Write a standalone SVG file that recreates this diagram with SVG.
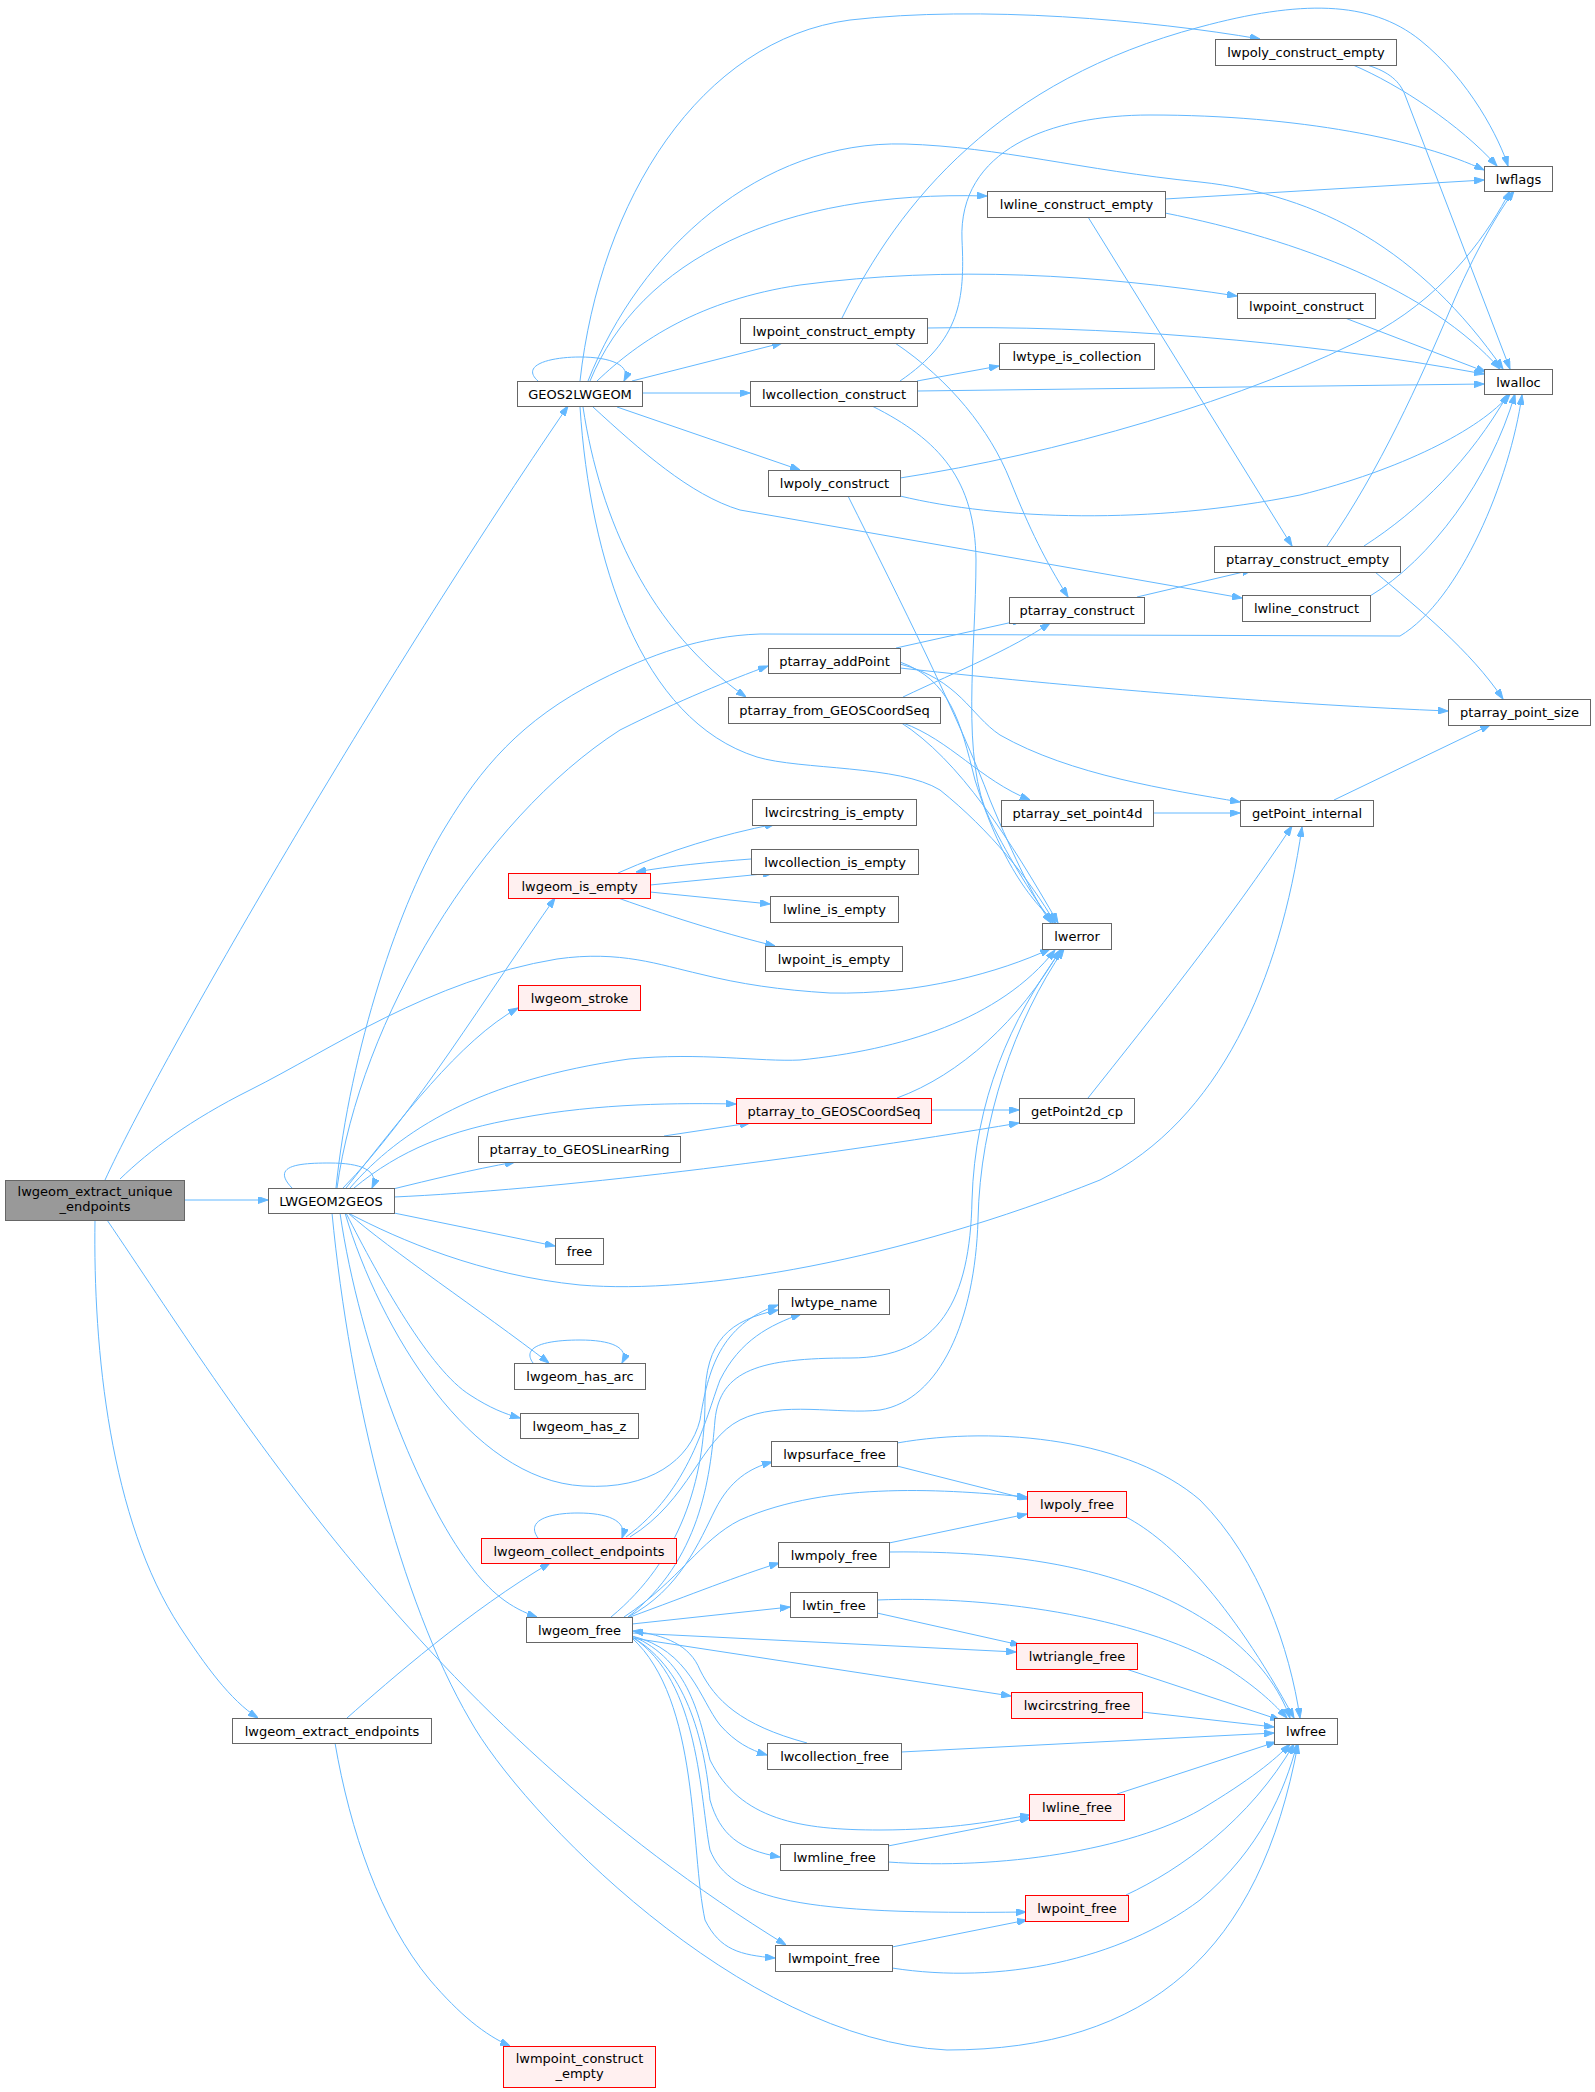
<svg xmlns="http://www.w3.org/2000/svg" width="1595" height="2092" viewBox="0 0 1595 2092">
<style>
.n rect{fill:#ffffff;stroke:#666666;stroke-width:1}
.r rect{fill:#fff0f0;stroke:#ff0000;stroke-width:1}
.s rect{fill:#999999;stroke:#666666;stroke-width:1}
text{font-family:"DejaVu Sans","Liberation Sans",sans-serif;font-size:13px;fill:#000000;text-anchor:middle}
#edges path{fill:none;stroke:#63b8ff;stroke-width:1;marker-end:url(#ah)}
</style>
<defs>
<marker id="ah" viewBox="0 0 10 7" refX="10" refY="3.5" markerWidth="10" markerHeight="7" markerUnits="userSpaceOnUse" orient="auto">
<path d="M0,0 L10,3.5 L0,7 z" fill="#63b8ff" stroke="#63b8ff"/>
</marker>
</defs>
<rect width="1595" height="2092" fill="#ffffff"/>
<g id="edges">
<!-- E -->
<path d="M184,1200 L268,1200"/>
<path d="M105,1180 C160,1060 380,680 568,406"/>
<path d="M120,1179 C150,1150 190,1120 250,1090 C330,1050 430,980 557,959 C620,950 660,965 700,974 C740,984 780,990 830,993 C920,995 1000,972 1050,949"/>
<path d="M95,1220 C93,1350 110,1520 180,1627 C205,1665 230,1700 258,1718"/>
<path d="M107,1220 C230,1400 420,1720 786,1945"/>
<!-- L -->
<path d="M292,1188 C270,1165 300,1163 330,1163 C360,1163 380,1170 372,1188"/>
<path d="M337,1188 C360,1020 480,820 620,730 C680,700 730,680 768,666"/>
<path d="M336,1188 C350,1050 400,900 446,826 C480,770 520,720 600,680 C650,655 700,636 760,634 L1400,636 C1460,600 1510,480 1522,395"/>
<path d="M343,1188 C410,1120 490,990 555,898"/>
<path d="M346,1188 C400,1120 460,1040 518,1008"/>
<path d="M350,1188 C400,1130 480,1080 629,1059 C700,1052 760,1062 800,1060 C900,1050 1000,1020 1055,950"/>
<path d="M354,1188 C400,1150 450,1130 520,1118 C600,1103 680,1103 736,1104"/>
<path d="M393,1189 C430,1180 470,1170 515,1162"/>
<path d="M394,1197 C550,1190 800,1160 1019,1123"/>
<path d="M394,1213 L555,1246"/>
<path d="M348,1213 C400,1240 480,1275 580,1285 C700,1295 900,1260 1100,1180 C1220,1120 1280,980 1302,827"/>
<path d="M348,1213 C390,1250 480,1310 549,1363"/>
<path d="M346,1213 C380,1280 430,1370 470,1395 C490,1408 505,1414 520,1418"/>
<path d="M345,1213 C380,1330 470,1480 583,1486 C650,1490 690,1460 700,1420 C708,1370 720,1325 778,1305"/>
<path d="M340,1213 C360,1350 420,1500 470,1565 C490,1592 510,1608 537,1617"/>
<path d="M332,1213 C350,1400 400,1600 470,1720 C520,1810 740,2040 947,2050 C1150,2050 1260,1950 1298,1744"/>
<!-- G -->
<path d="M538,381 C520,365 550,357 580,357 C610,357 632,365 624,381"/>
<path d="M642,393 L750,393"/>
<path d="M632,381 L782,343"/>
<path d="M617,407 L800,470"/>
<path d="M597,381 C640,340 700,300 800,285 C950,265 1100,275 1237,296"/>
<path d="M590,381 C640,260 780,190 987,196"/>
<path d="M580,381 C600,200 700,40 850,20 C980,5 1150,20 1260,39"/>
<path d="M588,381 C640,250 760,140 905,144 C1000,147 1080,170 1200,182 C1320,195 1420,250 1503,369"/>
<path d="M583,407 C600,520 650,630 746,697"/>
<path d="M580,407 C590,560 640,720 757,757 C800,770 900,765 940,790 C990,830 1030,880 1055,923"/>
<path d="M593,407 C640,450 690,495 740,510 L1242,598"/>
<!-- top right -->
<path d="M1353,65 C1400,85 1460,125 1497,166"/>
<path d="M1367,65 C1390,72 1400,82 1405,95 L1510,369"/>
<path d="M842,318 C900,200 1000,80 1200,27 C1300,0 1370,0 1420,40 C1470,80 1500,140 1508,166"/>
<path d="M927,328 C1100,325 1300,340 1484,374"/>
<path d="M895,343 C950,380 990,430 1010,480 C1030,530 1045,560 1068,597"/>
<path d="M900,381 C960,340 965,300 962,240 C958,150 1050,115 1150,115 C1300,115 1420,140 1484,170"/>
<path d="M917,381 L999,366"/>
<path d="M917,391 L1484,384"/>
<path d="M872,406 C940,440 975,480 976,560 C976,650 960,760 990,820 C1010,860 1035,900 1053,923"/>
<path d="M1165,199 L1484,180"/>
<path d="M1165,213 C1300,240 1430,290 1500,369"/>
<path d="M1088,217 L1292,546"/>
<path d="M1345,318 L1486,372"/>
<path d="M900,478 C1050,455 1250,400 1380,330 C1450,290 1490,230 1510,191"/>
<path d="M900,496 C1000,520 1150,525 1300,495 C1400,470 1480,430 1510,394"/>
<path d="M848,496 C900,600 960,720 990,800 C1015,860 1035,900 1051,923"/>
<path d="M1327,546 C1380,470 1420,380 1450,310 C1475,250 1500,210 1514,191"/>
<path d="M1364,546 C1420,510 1470,460 1508,394"/>
<path d="M1375,572 C1420,610 1470,650 1503,699"/>
<path d="M1370,596 C1430,560 1490,480 1515,394"/>
<path d="M1137,597 L1252,570"/>
<path d="M896,648 L1022,620"/>
<path d="M900,668 C1100,690 1300,705 1448,711"/>
<path d="M900,664 C960,680 970,715 1000,735 C1070,775 1170,790 1240,802"/>
<path d="M900,662 C950,680 960,720 975,780 C1000,860 1030,900 1056,923"/>
<path d="M903,697 C960,670 1010,650 1050,623"/>
<path d="M903,723 C950,740 980,780 1030,800"/>
<path d="M900,722 C960,760 1010,840 1058,923"/>
<path d="M1153,813 L1240,813"/>
<path d="M1334,800 L1490,725"/>
<!-- is_empty -->
<path d="M618,873 C670,850 720,835 775,824"/>
<path d="M751,859 C710,862 670,866 636,872"/>
<path d="M650,885 L773,873"/>
<path d="M650,892 L770,904"/>
<path d="M618,898 C680,920 730,935 775,946"/>
<!-- GEOS coord -->
<path d="M897,1098 C960,1075 1020,1020 1060,950"/>
<path d="M931,1110 L1019,1110"/>
<path d="M664,1136 L750,1123"/>
<path d="M1088,1098 C1150,1020 1230,920 1292,826"/>
<!-- self loops -->
<path d="M533,1363 C520,1345 550,1340 580,1340 C610,1340 630,1347 622,1363"/>
<path d="M538,1538 C525,1520 550,1513 578,1513 C606,1513 628,1520 622,1538"/>
<!-- collect / free -> lwtype_name, lwerror -->
<path d="M626,1537 C690,1490 705,1420 720,1380 C740,1340 770,1325 801,1314"/>
<path d="M611,1617 C680,1560 705,1480 705,1400 C705,1340 730,1320 778,1310"/>
<path d="M628,1617 C700,1560 710,1480 715,1420 C720,1370 760,1358 850,1358 C940,1358 970,1300 972,1200 C975,1100 1010,1020 1062,949"/>
<path d="M630,1537 C690,1500 700,1440 740,1420 C780,1400 840,1415 880,1410 C940,1400 975,1320 978,1220 C980,1120 1015,1020 1064,949"/>
<path d="M347,1718 C390,1680 470,1610 550,1563"/>
<path d="M335,1743 C350,1830 380,1920 430,1980 C460,2015 485,2035 510,2046"/>
<!-- lwgeom_free -->
<path d="M628,1617 C680,1590 700,1540 715,1510 C730,1480 750,1468 772,1462"/>
<path d="M624,1617 C680,1580 700,1540 740,1520 C830,1480 950,1490 1027,1497"/>
<path d="M630,1617 C690,1595 740,1575 779,1563"/>
<path d="M632,1624 L790,1607"/>
<path d="M632,1633 L1016,1652"/>
<path d="M632,1638 L1011,1696"/>
<path d="M807,1743 C740,1725 715,1700 700,1670 C690,1645 665,1635 633,1631"/>
<path d="M632,1636 C690,1650 700,1700 720,1725 C735,1742 750,1750 767,1755"/>
<path d="M632,1636 C690,1660 700,1720 710,1760 C740,1820 800,1830 880,1830 C950,1830 1000,1820 1030,1815"/>
<path d="M632,1637 C690,1670 705,1750 710,1800 C720,1835 740,1850 780,1857"/>
<path d="M632,1637 C700,1680 700,1800 710,1850 C730,1900 800,1915 1026,1912"/>
<path d="M632,1638 C700,1700 690,1850 705,1920 C720,1950 740,1955 775,1958"/>
<!-- frees -> lwfree -->
<path d="M897,1466 L1027,1499"/>
<path d="M897,1443 C1000,1425 1130,1440 1200,1500 C1260,1560 1290,1650 1300,1718"/>
<path d="M1126,1517 C1170,1540 1230,1600 1294,1718"/>
<path d="M889,1543 L1027,1514"/>
<path d="M889,1552 C1050,1550 1150,1580 1220,1630 C1260,1660 1280,1690 1290,1718"/>
<path d="M877,1613 L1020,1645"/>
<path d="M877,1600 C1000,1595 1150,1620 1230,1670 C1260,1690 1275,1705 1287,1718"/>
<path d="M1126,1669 L1280,1720"/>
<path d="M1142,1712 L1274,1727"/>
<path d="M901,1752 L1274,1733"/>
<path d="M1117,1794 L1276,1742"/>
<path d="M888,1846 L1030,1818"/>
<path d="M888,1862 C1000,1870 1130,1850 1200,1810 C1250,1780 1275,1760 1290,1744"/>
<path d="M1126,1895 C1180,1870 1250,1820 1294,1744"/>
<path d="M892,1947 L1027,1920"/>
<path d="M892,1968 C1000,1985 1120,1960 1200,1900 C1260,1850 1285,1790 1297,1744"/>
</g>
<g id="n_lwgeom_extract_unique_endpoints" class="s"><rect x="5.5" y="1180.5" width="179" height="40"/><text x="95" y="1196">lwgeom_extract_unique</text><text x="95" y="1211">_endpoints</text></g>
<g id="n_LWGEOM2GEOS" class="n"><rect x="268.5" y="1188.5" width="126" height="25"/><text x="331" y="1205.5">LWGEOM2GEOS</text></g>
<g id="n_GEOS2LWGEOM" class="n"><rect x="517.5" y="381.5" width="125" height="25"/><text x="580" y="398.5">GEOS2LWGEOM</text></g>
<g id="n_lwpoly_construct_empty" class="n"><rect x="1215.5" y="39.5" width="181" height="26"/><text x="1306" y="57">lwpoly_construct_empty</text></g>
<g id="n_lwflags" class="n"><rect x="1484.5" y="166.5" width="68" height="25"/><text x="1518.5" y="183.5">lwflags</text></g>
<g id="n_lwline_construct_empty" class="n"><rect x="987.5" y="191.5" width="178" height="26"/><text x="1076.5" y="209">lwline_construct_empty</text></g>
<g id="n_lwpoint_construct" class="n"><rect x="1237.5" y="293.5" width="138" height="25"/><text x="1306.5" y="310.5">lwpoint_construct</text></g>
<g id="n_lwpoint_construct_empty" class="n"><rect x="740.5" y="318.5" width="187" height="25"/><text x="834" y="335.5">lwpoint_construct_empty</text></g>
<g id="n_lwtype_is_collection" class="n"><rect x="999.5" y="343.5" width="155" height="26"/><text x="1077" y="361">lwtype_is_collection</text></g>
<g id="n_lwcollection_construct" class="n"><rect x="750.5" y="381.5" width="167" height="25"/><text x="834" y="398.5">lwcollection_construct</text></g>
<g id="n_lwalloc" class="n"><rect x="1484.5" y="369.5" width="68" height="25"/><text x="1518.5" y="386.5">lwalloc</text></g>
<g id="n_lwpoly_construct" class="n"><rect x="768.5" y="470.5" width="132" height="26"/><text x="834.5" y="488">lwpoly_construct</text></g>
<g id="n_ptarray_construct_empty" class="n"><rect x="1214.5" y="546.5" width="186" height="26"/><text x="1307.5" y="564">ptarray_construct_empty</text></g>
<g id="n_lwline_construct" class="n"><rect x="1242.5" y="595.5" width="128" height="26"/><text x="1306.5" y="613">lwline_construct</text></g>
<g id="n_ptarray_construct" class="n"><rect x="1009.5" y="597.5" width="135" height="26"/><text x="1077" y="615">ptarray_construct</text></g>
<g id="n_ptarray_addPoint" class="n"><rect x="768.5" y="648.5" width="132" height="25"/><text x="834.5" y="665.5">ptarray_addPoint</text></g>
<g id="n_ptarray_from_GEOSCoordSeq" class="n"><rect x="728.5" y="697.5" width="212" height="26"/><text x="834.5" y="715">ptarray_from_GEOSCoordSeq</text></g>
<g id="n_ptarray_point_size" class="n"><rect x="1448.5" y="699.5" width="142" height="26"/><text x="1519.5" y="717">ptarray_point_size</text></g>
<g id="n_lwcircstring_is_empty" class="n"><rect x="752.5" y="799.5" width="164" height="26"/><text x="834.5" y="817">lwcircstring_is_empty</text></g>
<g id="n_ptarray_set_point4d" class="n"><rect x="1001.5" y="800.5" width="152" height="26"/><text x="1077.5" y="818">ptarray_set_point4d</text></g>
<g id="n_getPoint_internal" class="n"><rect x="1240.5" y="800.5" width="133" height="26"/><text x="1307" y="818">getPoint_internal</text></g>
<g id="n_lwcollection_is_empty" class="n"><rect x="751.5" y="849.5" width="167" height="25"/><text x="835" y="866.5">lwcollection_is_empty</text></g>
<g id="n_lwgeom_is_empty" class="r"><rect x="508.5" y="873.5" width="142" height="25"/><text x="579.5" y="890.5">lwgeom_is_empty</text></g>
<g id="n_lwline_is_empty" class="n"><rect x="770.5" y="896.5" width="128" height="26"/><text x="834.5" y="914">lwline_is_empty</text></g>
<g id="n_lwpoint_is_empty" class="n"><rect x="765.5" y="946.5" width="137" height="25"/><text x="834" y="963.5">lwpoint_is_empty</text></g>
<g id="n_lwerror" class="n"><rect x="1042.5" y="923.5" width="69" height="26"/><text x="1077" y="941">lwerror</text></g>
<g id="n_lwgeom_stroke" class="r"><rect x="518.5" y="985.5" width="122" height="25"/><text x="579.5" y="1002.5">lwgeom_stroke</text></g>
<g id="n_ptarray_to_GEOSCoordSeq" class="r"><rect x="736.5" y="1098.5" width="195" height="25"/><text x="834" y="1115.5">ptarray_to_GEOSCoordSeq</text></g>
<g id="n_getPoint2d_cp" class="n"><rect x="1019.5" y="1098.5" width="115" height="25"/><text x="1077" y="1115.5">getPoint2d_cp</text></g>
<g id="n_ptarray_to_GEOSLinearRing" class="n"><rect x="478.5" y="1136.5" width="202" height="26"/><text x="579.5" y="1154">ptarray_to_GEOSLinearRing</text></g>
<g id="n_free" class="n"><rect x="555.5" y="1238.5" width="48" height="26"/><text x="579.5" y="1256">free</text></g>
<g id="n_lwtype_name" class="n"><rect x="778.5" y="1289.5" width="111" height="25"/><text x="834" y="1306.5">lwtype_name</text></g>
<g id="n_lwgeom_has_arc" class="n"><rect x="514.5" y="1363.5" width="131" height="26"/><text x="580" y="1381">lwgeom_has_arc</text></g>
<g id="n_lwgeom_has_z" class="n"><rect x="520.5" y="1413.5" width="118" height="25"/><text x="579.5" y="1430.5">lwgeom_has_z</text></g>
<g id="n_lwpsurface_free" class="n"><rect x="771.5" y="1441.5" width="126" height="25"/><text x="834.5" y="1458.5">lwpsurface_free</text></g>
<g id="n_lwpoly_free" class="r"><rect x="1027.5" y="1491.5" width="99" height="26"/><text x="1077" y="1509">lwpoly_free</text></g>
<g id="n_lwgeom_collect_endpoints" class="r"><rect x="481.5" y="1538.5" width="195" height="25"/><text x="579" y="1555.5">lwgeom_collect_endpoints</text></g>
<g id="n_lwmpoly_free" class="n"><rect x="778.5" y="1542.5" width="111" height="25"/><text x="834" y="1559.5">lwmpoly_free</text></g>
<g id="n_lwtin_free" class="n"><rect x="790.5" y="1592.5" width="87" height="25"/><text x="834" y="1609.5">lwtin_free</text></g>
<g id="n_lwgeom_free" class="n"><rect x="526.5" y="1617.5" width="106" height="25"/><text x="579.5" y="1634.5">lwgeom_free</text></g>
<g id="n_lwtriangle_free" class="r"><rect x="1016.5" y="1643.5" width="121" height="26"/><text x="1077" y="1661">lwtriangle_free</text></g>
<g id="n_lwcircstring_free" class="r"><rect x="1011.5" y="1692.5" width="131" height="26"/><text x="1077" y="1710">lwcircstring_free</text></g>
<g id="n_lwfree" class="n"><rect x="1274.5" y="1718.5" width="63" height="26"/><text x="1306" y="1736">lwfree</text></g>
<g id="n_lwgeom_extract_endpoints" class="n"><rect x="232.5" y="1718.5" width="199" height="25"/><text x="332" y="1735.5">lwgeom_extract_endpoints</text></g>
<g id="n_lwcollection_free" class="n"><rect x="767.5" y="1743.5" width="134" height="26"/><text x="834.5" y="1761">lwcollection_free</text></g>
<g id="n_lwline_free" class="r"><rect x="1029.5" y="1794.5" width="95" height="26"/><text x="1077" y="1812">lwline_free</text></g>
<g id="n_lwmline_free" class="n"><rect x="780.5" y="1844.5" width="108" height="26"/><text x="834.5" y="1862">lwmline_free</text></g>
<g id="n_lwpoint_free" class="r"><rect x="1025.5" y="1895.5" width="103" height="26"/><text x="1077" y="1913">lwpoint_free</text></g>
<g id="n_lwmpoint_free" class="n"><rect x="775.5" y="1945.5" width="117" height="26"/><text x="834" y="1963">lwmpoint_free</text></g>
<g id="n_lwmpoint_construct_empty" class="r"><rect x="503.5" y="2046.5" width="152" height="41"/><text x="579.5" y="2063">lwmpoint_construct</text><text x="579.5" y="2078">_empty</text></g>
</svg>
